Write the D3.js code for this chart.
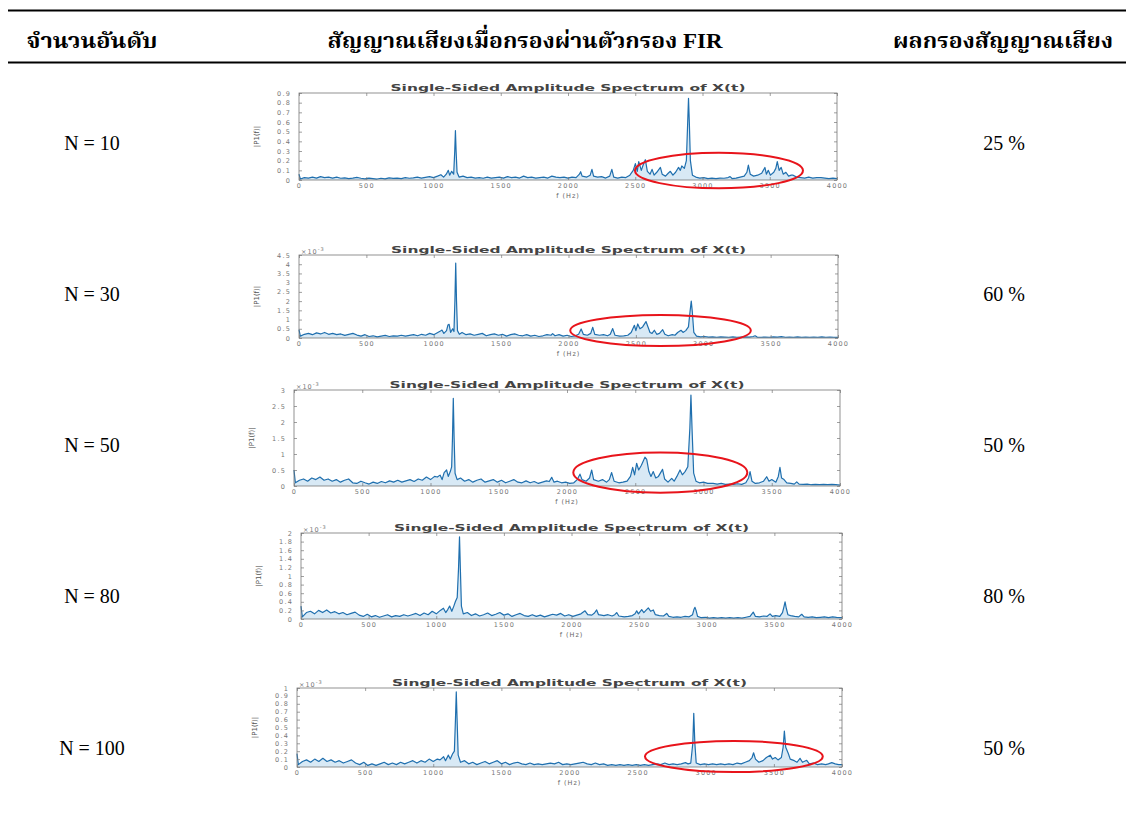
<!DOCTYPE html>
<html><head><meta charset="utf-8">
<script src="https://cdn.jsdelivr.net/npm/d3@7/dist/d3.min.js"></script>
<style>body{margin:0;background:#fff}svg{display:block}</style>
</head><body>
<svg id="c" width="1132" height="816"></svg>
<script>
// ---------- DATA ----------
const headers = ["จำนวนอันดับ", "สัญญาณเสียงเมื่อกรองผ่านตัวกรอง FIR", "ผลกรองสัญญาณเสียง"];
const rowLabels = ["N = 10", "N = 30", "N = 50", "N = 80", "N = 100"];
const results = ["25 %", "60 %", "50 %", "80 %", "50 %"];
const plotTitle = "Single-Sided Amplitude Spectrum of X(t)";
const xTicks = [0, 500, 1000, 1500, 2000, 2500, 3000, 3500, 4000];
const yTicks1 = [0, 0.1, 0.2, 0.3, 0.4, 0.5, 0.6, 0.7, 0.8, 0.9];
const yTicks2 = [0, 0.5, 1, 1.5, 2, 2.5, 3, 3.5, 4, 4.5];
const yTicks3 = [0, 0.5, 1, 1.5, 2, 2.5, 3];
const yTicks4 = [0, 0.2, 0.4, 0.6, 0.8, 1, 1.2, 1.4, 1.6, 1.8, 2];
const yTicks5 = [0, 0.1, 0.2, 0.3, 0.4, 0.5, 0.6, 0.7, 0.8, 0.9, 1];
const yScaleExp = [false, true, true, true, true];   // ×10^-3 marker

// [frequency Hz, |P1(f)|]  (plots 2-5 in units of 1e-3)
const spec10 = [[0,0.06],[10,0.01],[40,0.025],[70,0.02],[100,0.03],[130,0.02],[160,0.035],[190,0.025],[220,0.03],[250,0.02],[280,0.03],[310,0.018],[340,0.022],[370,0.015],[400,0.02],[430,0.028],[460,0.018],[490,0.012],[520,0.02],[550,0.015],[580,0.01],[610,0.018],[640,0.012],[670,0.022],[700,0.016],[730,0.02],[760,0.014],[790,0.025],[820,0.018],[850,0.022],[880,0.03],[910,0.02],[940,0.028],[970,0.035],[1000,0.025],[1030,0.04],[1055,0.055],[1075,0.03],[1095,0.06],[1110,0.1],[1120,0.05],[1135,0.09],[1150,0.06],[1158,0.3],[1163,0.51],[1168,0.3],[1175,0.08],[1190,0.03],[1220,0.04],[1250,0.025],[1280,0.03],[1310,0.02],[1340,0.025],[1370,0.018],[1400,0.03],[1430,0.02],[1460,0.025],[1490,0.03],[1520,0.02],[1550,0.035],[1580,0.025],[1610,0.03],[1640,0.02],[1670,0.04],[1700,0.025],[1730,0.03],[1760,0.02],[1790,0.025],[1820,0.03],[1850,0.02],[1880,0.04],[1910,0.03],[1940,0.025],[1970,0.03],[2000,0.02],[2030,0.03],[2060,0.025],[2085,0.06],[2094,0.086],[2105,0.04],[2140,0.03],[2165,0.05],[2178,0.11],[2190,0.04],[2220,0.03],[2250,0.035],[2280,0.02],[2310,0.04],[2326,0.11],[2340,0.03],[2370,0.02],[2400,0.03],[2430,0.025],[2460,0.05],[2485,0.1],[2501,0.17],[2515,0.09],[2526,0.19],[2545,0.1],[2560,0.16],[2575,0.21],[2590,0.09],[2610,0.06],[2625,0.11],[2640,0.05],[2660,0.08],[2687,0.13],[2700,0.06],[2725,0.04],[2745,0.07],[2761,0.09],[2780,0.05],[2800,0.08],[2822,0.13],[2835,0.1],[2846,0.145],[2865,0.12],[2880,0.2],[2890,0.6],[2896,0.845],[2902,0.6],[2910,0.2],[2925,0.05],[2950,0.03],[2980,0.02],[3010,0.025],[3040,0.015],[3070,0.02],[3100,0.015],[3130,0.02],[3160,0.018],[3190,0.025],[3205,0.035],[3220,0.015],[3250,0.02],[3280,0.03],[3310,0.04],[3330,0.08],[3341,0.155],[3355,0.06],[3380,0.04],[3410,0.05],[3440,0.07],[3464,0.13],[3475,0.06],[3489,0.1],[3505,0.05],[3530,0.08],[3545,0.12],[3556,0.19],[3570,0.1],[3585,0.13],[3600,0.06],[3620,0.08],[3640,0.04],[3660,0.05],[3674,0.05],[3700,0.03],[3730,0.025],[3760,0.02],[3790,0.03],[3820,0.02],[3850,0.025],[3881,0.025],[3910,0.02],[3940,0.015],[3970,0.02],[4000,0.015]];
const spec30 = [[0,0.45],[10,0.1],[40,0.2],[70,0.25],[100,0.18],[130,0.28],[160,0.22],[190,0.3],[220,0.2],[250,0.25],[280,0.18],[310,0.22],[340,0.14],[370,0.2],[400,0.25],[430,0.16],[460,0.1],[490,0.18],[520,0.08],[550,0.12],[580,0.06],[610,0.1],[640,0.14],[670,0.08],[700,0.12],[730,0.1],[760,0.15],[790,0.1],[820,0.14],[850,0.18],[880,0.12],[910,0.2],[940,0.15],[970,0.25],[1000,0.18],[1030,0.3],[1050,0.38],[1061,0.43],[1075,0.25],[1095,0.4],[1105,0.7],[1114,0.74],[1125,0.3],[1140,0.5],[1150,0.35],[1157,2.0],[1163,4.06],[1169,2.0],[1176,0.4],[1190,0.2],[1210,0.3],[1240,0.18],[1270,0.22],[1300,0.15],[1330,0.2],[1360,0.25],[1390,0.12],[1420,0.18],[1450,0.22],[1480,0.15],[1510,0.2],[1540,0.1],[1570,0.18],[1600,0.22],[1630,0.15],[1660,0.12],[1690,0.18],[1720,0.1],[1750,0.15],[1780,0.08],[1810,0.12],[1840,0.18],[1870,0.15],[1882,0.24],[1900,0.12],[1930,0.18],[1960,0.1],[1990,0.15],[2020,0.08],[2050,0.12],[2075,0.2],[2094,0.49],[2110,0.2],[2140,0.15],[2165,0.25],[2180,0.58],[2195,0.2],[2230,0.15],[2260,0.18],[2290,0.12],[2310,0.2],[2328,0.51],[2345,0.15],[2380,0.1],[2410,0.12],[2440,0.15],[2465,0.3],[2489,0.69],[2500,0.4],[2514,0.76],[2530,0.5],[2550,0.6],[2575,0.89],[2590,0.6],[2605,0.3],[2620,0.25],[2637,0.42],[2655,0.2],[2675,0.25],[2699,0.45],[2715,0.2],[2740,0.12],[2770,0.18],[2790,0.15],[2810,0.3],[2835,0.42],[2850,0.3],[2870,0.4],[2890,0.6],[2903,1.5],[2911,2.0],[2919,1.4],[2930,0.3],[2950,0.1],[2980,0.06],[3010,0.08],[3040,0.05],[3070,0.06],[3100,0.04],[3130,0.06],[3160,0.05],[3190,0.04],[3220,0.06],[3250,0.04],[3280,0.05],[3310,0.06],[3340,0.05],[3370,0.08],[3385,0.12],[3400,0.05],[3430,0.04],[3460,0.05],[3490,0.04],[3520,0.06],[3550,0.05],[3580,0.07],[3610,0.04],[3640,0.05],[3670,0.04],[3700,0.06],[3730,0.04],[3760,0.05],[3790,0.04],[3820,0.05],[3850,0.04],[3880,0.06],[3910,0.04],[3940,0.05],[3970,0.04],[4000,0.03]];
const spec50 = [[0,0.5],[10,0.1],[40,0.18],[70,0.22],[100,0.15],[130,0.25],[160,0.2],[190,0.28],[220,0.18],[250,0.22],[280,0.15],[310,0.2],[340,0.12],[370,0.18],[400,0.22],[430,0.1],[460,0.08],[490,0.15],[520,0.1],[550,0.06],[580,0.12],[610,0.08],[640,0.14],[670,0.1],[700,0.16],[730,0.12],[760,0.18],[790,0.12],[820,0.16],[850,0.2],[880,0.14],[910,0.22],[940,0.18],[970,0.28],[1000,0.2],[1030,0.3],[1050,0.28],[1070,0.34],[1085,0.2],[1100,0.42],[1118,0.5],[1130,0.3],[1145,0.45],[1155,0.6],[1161,1.5],[1167,2.74],[1173,1.5],[1180,0.4],[1195,0.2],[1220,0.25],[1250,0.15],[1280,0.2],[1310,0.12],[1340,0.18],[1370,0.22],[1400,0.12],[1430,0.16],[1460,0.2],[1490,0.12],[1520,0.18],[1550,0.1],[1580,0.15],[1610,0.2],[1640,0.12],[1670,0.1],[1700,0.16],[1730,0.1],[1760,0.14],[1790,0.08],[1820,0.12],[1850,0.16],[1870,0.14],[1888,0.27],[1905,0.12],[1930,0.15],[1960,0.1],[1990,0.12],[2020,0.08],[2050,0.1],[2075,0.2],[2095,0.37],[2110,0.2],[2140,0.15],[2165,0.25],[2181,0.5],[2195,0.2],[2230,0.15],[2260,0.2],[2290,0.12],[2310,0.2],[2327,0.42],[2345,0.15],[2380,0.1],[2410,0.12],[2440,0.15],[2465,0.3],[2481,0.58],[2495,0.35],[2510,0.71],[2525,0.5],[2545,0.65],[2571,0.9],[2584,0.83],[2600,0.45],[2615,0.3],[2632,0.45],[2650,0.25],[2670,0.3],[2700,0.52],[2715,0.22],[2740,0.12],[2767,0.24],[2785,0.15],[2805,0.3],[2828,0.5],[2845,0.35],[2865,0.45],[2885,0.6],[2900,1.8],[2908,2.84],[2916,1.8],[2928,0.4],[2945,0.15],[2970,0.1],[3000,0.12],[3030,0.08],[3070,0.08],[3100,0.06],[3130,0.08],[3160,0.05],[3190,0.06],[3220,0.05],[3250,0.07],[3280,0.05],[3310,0.1],[3330,0.25],[3341,0.45],[3355,0.15],[3380,0.08],[3410,0.1],[3440,0.15],[3463,0.29],[3480,0.15],[3500,0.2],[3530,0.12],[3548,0.3],[3560,0.58],[3572,0.25],[3590,0.2],[3610,0.1],[3640,0.08],[3665,0.06],[3683,0.13],[3700,0.06],[3730,0.05],[3760,0.06],[3790,0.04],[3820,0.05],[3850,0.04],[3880,0.05],[3910,0.04],[3940,0.05],[3970,0.04],[4000,0.03]];
const spec80 = [[0,0.3],[10,0.05],[40,0.15],[70,0.18],[100,0.12],[130,0.2],[160,0.15],[190,0.21],[220,0.14],[250,0.17],[280,0.12],[310,0.15],[340,0.1],[370,0.13],[400,0.16],[430,0.09],[460,0.06],[490,0.11],[520,0.05],[550,0.08],[580,0.04],[610,0.07],[640,0.1],[670,0.05],[700,0.08],[730,0.06],[760,0.1],[790,0.07],[820,0.1],[850,0.13],[880,0.08],[910,0.14],[940,0.1],[970,0.18],[1000,0.12],[1030,0.2],[1053,0.25],[1070,0.15],[1085,0.22],[1099,0.3],[1115,0.18],[1130,0.3],[1141,0.4],[1155,0.5],[1165,1.2],[1172,1.91],[1178,1.2],[1186,0.3],[1200,0.12],[1230,0.15],[1260,0.08],[1290,0.12],[1320,0.07],[1350,0.1],[1380,0.14],[1410,0.08],[1440,0.11],[1470,0.15],[1500,0.09],[1530,0.12],[1560,0.06],[1590,0.1],[1620,0.13],[1650,0.08],[1680,0.06],[1710,0.1],[1740,0.06],[1770,0.09],[1800,0.05],[1830,0.08],[1860,0.11],[1890,0.09],[1920,0.13],[1950,0.07],[1980,0.1],[2010,0.06],[2040,0.09],[2070,0.12],[2100,0.19],[2120,0.1],[2150,0.09],[2170,0.14],[2186,0.21],[2200,0.1],[2240,0.08],[2270,0.1],[2300,0.07],[2320,0.1],[2334,0.15],[2350,0.07],[2390,0.05],[2420,0.06],[2450,0.08],[2470,0.12],[2482,0.19],[2495,0.12],[2519,0.22],[2535,0.15],[2550,0.2],[2568,0.26],[2585,0.18],[2605,0.21],[2620,0.1],[2650,0.08],[2680,0.07],[2704,0.13],[2720,0.06],[2750,0.04],[2780,0.05],[2810,0.04],[2840,0.06],[2870,0.05],[2895,0.1],[2905,0.22],[2913,0.27],[2921,0.2],[2932,0.06],[2960,0.03],[2990,0.04],[3020,0.02],[3050,0.03],[3080,0.02],[3110,0.03],[3140,0.02],[3170,0.03],[3200,0.02],[3230,0.03],[3260,0.02],[3290,0.04],[3320,0.06],[3344,0.16],[3360,0.06],[3390,0.05],[3420,0.07],[3445,0.06],[3468,0.12],[3485,0.06],[3510,0.08],[3540,0.06],[3560,0.15],[3572,0.3],[3579,0.4],[3588,0.25],[3600,0.1],[3620,0.08],[3650,0.06],[3680,0.05],[3702,0.11],[3720,0.05],[3750,0.04],[3780,0.05],[3810,0.03],[3840,0.04],[3870,0.05],[3900,0.03],[3930,0.05],[3960,0.04],[4000,0.03]];
const spec100 = [[0,0.17],[10,0.03],[40,0.07],[70,0.09],[100,0.06],[130,0.1],[160,0.07],[190,0.11],[220,0.07],[250,0.09],[280,0.06],[310,0.08],[340,0.05],[370,0.07],[400,0.09],[430,0.05],[460,0.03],[490,0.06],[520,0.02],[550,0.04],[580,0.02],[610,0.04],[640,0.06],[670,0.03],[700,0.05],[730,0.03],[760,0.06],[790,0.04],[820,0.06],[850,0.08],[880,0.05],[910,0.08],[940,0.06],[970,0.1],[1000,0.07],[1030,0.1],[1050,0.09],[1076,0.13],[1090,0.08],[1111,0.15],[1125,0.1],[1143,0.17],[1155,0.2],[1163,0.6],[1169,0.95],[1175,0.6],[1183,0.15],[1200,0.06],[1230,0.08],[1260,0.04],[1290,0.06],[1320,0.03],[1350,0.05],[1380,0.07],[1410,0.04],[1440,0.06],[1470,0.08],[1500,0.04],[1530,0.06],[1560,0.03],[1590,0.05],[1620,0.06],[1650,0.04],[1680,0.03],[1710,0.05],[1740,0.03],[1770,0.04],[1800,0.03],[1830,0.04],[1860,0.05],[1890,0.04],[1920,0.06],[1950,0.03],[1980,0.04],[2010,0.03],[2040,0.04],[2070,0.05],[2100,0.06],[2130,0.04],[2160,0.03],[2190,0.05],[2220,0.03],[2250,0.04],[2280,0.02],[2310,0.03],[2340,0.02],[2370,0.03],[2400,0.02],[2430,0.03],[2460,0.02],[2490,0.03],[2520,0.02],[2550,0.03],[2580,0.02],[2610,0.03],[2640,0.04],[2670,0.03],[2700,0.05],[2730,0.03],[2760,0.04],[2790,0.03],[2820,0.04],[2851,0.055],[2870,0.04],[2890,0.05],[2905,0.3],[2912,0.68],[2920,0.3],[2930,0.05],[2960,0.03],[2990,0.04],[3020,0.03],[3050,0.04],[3080,0.03],[3110,0.04],[3140,0.03],[3170,0.04],[3200,0.03],[3230,0.05],[3260,0.04],[3290,0.06],[3320,0.08],[3340,0.12],[3351,0.18],[3365,0.1],[3390,0.06],[3420,0.08],[3445,0.12],[3473,0.15],[3490,0.1],[3510,0.12],[3530,0.09],[3555,0.12],[3568,0.25],[3577,0.455],[3587,0.25],[3606,0.17],[3620,0.1],[3650,0.08],[3670,0.06],[3692,0.11],[3710,0.06],[3741,0.085],[3760,0.04],[3790,0.05],[3820,0.03],[3850,0.04],[3880,0.03],[3900,0.04],[3925,0.055],[3950,0.04],[3975,0.03],[4000,0.03]];
const spectra = [spec10, spec30, spec50, spec80, spec100];
const yTickSets = [yTicks1, yTicks2, yTicks3, yTicks4, yTicks5];
// red ellipse annotations in data units: [f1, f2, v1, v2] (null = none)
const circled = [[2498, 3747, -0.086, 0.282], [2013, 3353, -0.43, 1.25], [2046, 3321, -0.21, 1.05], null, [2554, 3859, -0.064, 0.33]];

// ---------- LAYOUT ----------
const boxes = [
  {l: 299, r: 837, t: 93, b: 180},
  {l: 299, r: 838, t: 255, b: 338},
  {l: 294, r: 840, t: 390, b: 486},
  {l: 301, r: 842, t: 533, b: 619},
  {l: 297, r: 842, t: 688, b: 767}
];
const rowY = [143, 294, 445, 596, 748];

const svg = d3.select("#c");
const thai = "'Liberation Serif','Noto Serif Thai','Noto Sans Thai','Tlwg Typo','Garuda','Norasi',serif";

// table rules
svg.append("line").attr("x1", 8).attr("x2", 1126).attr("y1", 10.5).attr("y2", 10.5).attr("stroke", "#000").attr("stroke-width", 2);
svg.append("line").attr("x1", 8).attr("x2", 1126).attr("y1", 62.5).attr("y2", 62.5).attr("stroke", "#000").attr("stroke-width", 2);

const hdrX = [92, 525, 1003], hdrW = [131, 395, 220];
headers.forEach((h, i) => {
  svg.append("text").attr("x", hdrX[i]).attr("y", 48).attr("text-anchor", "middle")
    .attr("font-family", thai).attr("font-weight", "bold").attr("font-size", 22)
    .attr("textLength", hdrW[i]).attr("lengthAdjust", "spacingAndGlyphs").text(h);
});

rowLabels.forEach((t, i) => {
  svg.append("text").attr("x", 92).attr("y", rowY[i] + 7).attr("text-anchor", "middle")
    .attr("font-family", "'Liberation Serif',serif").attr("font-size", 20).text(t);
  svg.append("text").attr("x", 1004).attr("y", rowY[i] + 7).attr("text-anchor", "middle")
    .attr("font-family", "'Liberation Serif',serif").attr("font-size", 20).text(results[i]);
});

const lineBlue = "#1f6fae";
spectra.forEach((spec, i) => {
  const bx = boxes[i];
  const yt = yTickSets[i];
  const x = d3.scaleLinear().domain([0, 4000]).range([bx.l, bx.r]);
  const y = d3.scaleLinear().domain([0, yt[yt.length - 1]]).range([bx.b, bx.t]);
  const g = svg.append("g");

  // area + line
  const area = d3.area().x(d => x(d[0])).y0(y(0)).y1(d => y(d[1]));
  g.append("path").datum(spec).attr("d", area).attr("fill", "#8fc1e3").attr("opacity", 0.35);
  const line = d3.line().x(d => x(d[0])).y(d => y(d[1]));
  g.append("path").datum(spec).attr("d", line).attr("fill", "none").attr("stroke", lineBlue).attr("stroke-width", 1.2).attr("stroke-linejoin", "round");

  // box
  g.append("rect").attr("x", bx.l).attr("y", bx.t).attr("width", bx.r - bx.l).attr("height", bx.b - bx.t)
    .attr("fill", "none").attr("stroke", "#777").attr("stroke-width", 0.8);

  // axes with inward ticks
  const ax = d3.axisBottom(x).tickValues(xTicks).tickSize(-3).tickPadding(3).tickFormat(d3.format("d"));
  const axG = g.append("g").attr("transform", `translate(0,${bx.b})`).call(ax);
  const axT = g.append("g").attr("transform", `translate(0,${bx.t})`).call(d3.axisTop(x).tickValues(xTicks).tickSize(-3).tickFormat(""));
  const ay = d3.axisLeft(y).tickValues(yt).tickSize(-3).tickPadding(8).tickFormat(d => d3.format("")(d));
  const ayG = g.append("g").attr("transform", `translate(${bx.l},0)`).call(ay);
  const ayR = g.append("g").attr("transform", `translate(${bx.r},0)`).call(d3.axisRight(y).tickValues(yt).tickSize(-3).tickFormat(""));
  [axG, axT, ayG, ayR].forEach(a => {
    a.select(".domain").remove();
    a.selectAll(".tick line").attr("stroke", "#777").attr("stroke-width", 0.7);
    a.selectAll(".tick text").attr("fill", "#777").attr("font-family", "'DejaVu Sans',sans-serif")
      .attr("font-size", 6.5).attr("letter-spacing", 1.2);
  });

  // title
  g.append("text").attr("x", (bx.l + bx.r) / 2).attr("y", bx.t - 2).attr("text-anchor", "middle")
    .attr("font-family", "'DejaVu Sans',sans-serif").attr("font-weight", "bold").attr("font-size", 8)
    .attr("fill", "#444").attr("textLength", 355).attr("lengthAdjust", "spacingAndGlyphs").text(plotTitle);
  // x label
  g.append("text").attr("x", (bx.l + bx.r) / 2).attr("y", bx.b + 18).attr("text-anchor", "middle")
    .attr("font-family", "'DejaVu Sans',sans-serif").attr("font-size", 6.5).attr("letter-spacing", 1)
    .attr("fill", "#666").text("f (Hz)");
  // y label
  g.append("text").attr("transform", `translate(${bx.l - 40},${(bx.t + bx.b) / 2}) rotate(-90)`)
    .attr("text-anchor", "middle").attr("font-family", "'DejaVu Sans',sans-serif").attr("font-size", 7)
    .attr("fill", "#555").text("|P1(f)|");
  // exponent
  if (yScaleExp[i]) {
    const e = g.append("text").attr("x", bx.l + 2).attr("y", bx.t - 1).attr("font-family", "'DejaVu Sans',sans-serif")
      .attr("font-size", 6.5).attr("fill", "#777").attr("letter-spacing", 1);
    e.append("tspan").text("×10");
    e.append("tspan").attr("dy", -3).attr("font-size", 5).text("-3");
  }

  // red ellipse
  const c = circled[i];
  if (c) {
    const cx = (x(c[0]) + x(c[1])) / 2, rx = (x(c[1]) - x(c[0])) / 2;
    const cy = (y(c[2]) + y(c[3])) / 2, ry = Math.abs(y(c[2]) - y(c[3])) / 2;
    g.append("ellipse").attr("cx", cx).attr("cy", cy).attr("rx", rx).attr("ry", ry)
      .attr("fill", "none").attr("stroke", "#e8141b").attr("stroke-width", 2);
  }
});
</script>
</body></html>
